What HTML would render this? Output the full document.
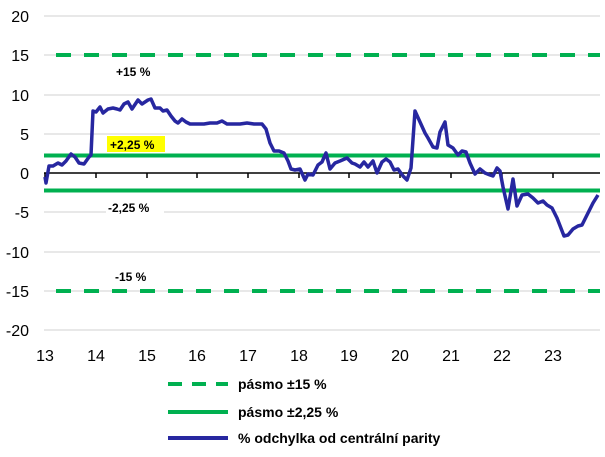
<!DOCTYPE html>
<html><head><meta charset="utf-8"><style>
body{margin:0;background:#fff;}
svg text{font-family:"Liberation Sans",Arial,sans-serif;}
</style></head><body>
<svg width="605" height="452" viewBox="0 0 605 452" xmlns="http://www.w3.org/2000/svg">
<g stroke="#d0d0d0" stroke-width="1">
<line x1="44" x2="600" y1="16" y2="16"/><line x1="44" x2="600" y1="55" y2="55"/>
<line x1="44" x2="600" y1="95" y2="95"/><line x1="44" x2="600" y1="134" y2="134"/>
<line x1="44" x2="600" y1="212" y2="212"/><line x1="44" x2="600" y1="252" y2="252"/>
<line x1="44" x2="600" y1="291" y2="291"/><line x1="44" x2="600" y1="330" y2="330"/>
</g>
<g font-size="16" fill="#000" text-anchor="end">
<text x="29" y="22">20</text><text x="29" y="61">15</text><text x="29" y="101">10</text>
<text x="29" y="140">5</text><text x="29" y="179">0</text><text x="29" y="218">-5</text>
<text x="29" y="258">-10</text><text x="29" y="297">-15</text><text x="29" y="336">-20</text>
</g>
<g font-size="16" fill="#000" text-anchor="middle">
<text x="45" y="361">13</text><text x="96" y="361">14</text><text x="147" y="361">15</text>
<text x="197" y="361">16</text><text x="248" y="361">17</text><text x="299" y="361">18</text>
<text x="349" y="361">19</text><text x="400" y="361">20</text><text x="451" y="361">21</text>
<text x="502" y="361">22</text><text x="553" y="361">23</text>
</g>
<line x1="44" x2="600" y1="173" y2="173" stroke="#000" stroke-width="1.5"/>
<g stroke="#000" stroke-width="1.5">
<line x1="45" x2="45" y1="173" y2="178"/><line x1="96" x2="96" y1="173" y2="178"/>
<line x1="147" x2="147" y1="173" y2="178"/><line x1="197" x2="197" y1="173" y2="178"/>
<line x1="248" x2="248" y1="173" y2="178"/><line x1="299" x2="299" y1="173" y2="178"/>
<line x1="349" x2="349" y1="173" y2="178"/><line x1="400" x2="400" y1="173" y2="178"/>
<line x1="451" x2="451" y1="173" y2="178"/><line x1="502" x2="502" y1="173" y2="178"/>
<line x1="553" x2="553" y1="173" y2="178"/>
</g>
<g stroke="#00b050" stroke-width="4">
<line x1="56" x2="600" y1="55" y2="55" stroke-dasharray="15 13"/>
<line x1="56" x2="600" y1="291" y2="291" stroke-dasharray="15 13"/>
<line x1="44" x2="600" y1="155.5" y2="155.5"/>
<line x1="44" x2="600" y1="190.5" y2="190.5"/>
</g>
<rect x="107" y="136" width="58" height="16" fill="#ffff00"/>
<rect x="106" y="200" width="58" height="15" fill="#fff"/>
<g font-size="12" font-weight="bold" fill="#000">
<text x="116" y="76">+15 %</text>
<text x="110" y="149">+2,25 %</text>
<text x="108" y="212">-2,25 %</text>
<text x="115" y="281">-15 %</text>
</g>
<polyline fill="none" stroke="#2727a0" stroke-width="3.5" stroke-linejoin="round" points="45,177 46,183 49,166 53,166 58,163 62,165 66,161 71,154 75,157 79,163 84,164 89,157 91,155 93,111 96,112 100,107 103,113 108,109 113,108 117,109 120,110 124,104 128,102 132,109 138,100 142,104 148,100 151,99 155,108 160,108 163,111 167,110 171,116 175,121 178,123 182,119 186,122 190,124 197,124 204,124 210,123 217,123 222,121 227,124 233,124 240,124 247,123 254,124 262,124 266,129 270,143 274,151 279,151 284,153 288,161 291,169 295,170 300,169 305,180 308,174 313,175 318,165 322,162 326,153 330,169 335,163 340,161 347,158 352,163 355,164 360,167 364,162 368,167 373,161 377,173 382,162 386,159 390,162 394,170 398,169 403,176 407,180 411,168 415,111 420,122 425,133 428,138 433,147 437,148 440,132 445,122 448,145 453,148 458,155 462,151 466,152 470,163 475,174 480,169 485,173 490,175 493,176 497,168 500,171 503,187 508,209 513,179 517,206 522,195 528,194 533,198 538,203 543,201 547,205 552,208 557,218 564,236 568,235 573,229 578,226 582,225 587,215 593,203 598,195"/>
<line x1="168" x2="228" y1="384" y2="384" stroke="#00b050" stroke-width="4" stroke-dasharray="14 10"/>
<line x1="168" x2="228" y1="412" y2="412" stroke="#00b050" stroke-width="4"/>
<line x1="168" x2="228" y1="438" y2="438" stroke="#2727a0" stroke-width="4"/>
<g font-size="14" font-weight="bold" fill="#000">
<text x="238" y="389">pásmo ±15 %</text>
<text x="238" y="417">pásmo ±2,25 %</text>
<text x="238" y="443">% odchylka od centrální parity</text>
</g>
</svg>
</body></html>
